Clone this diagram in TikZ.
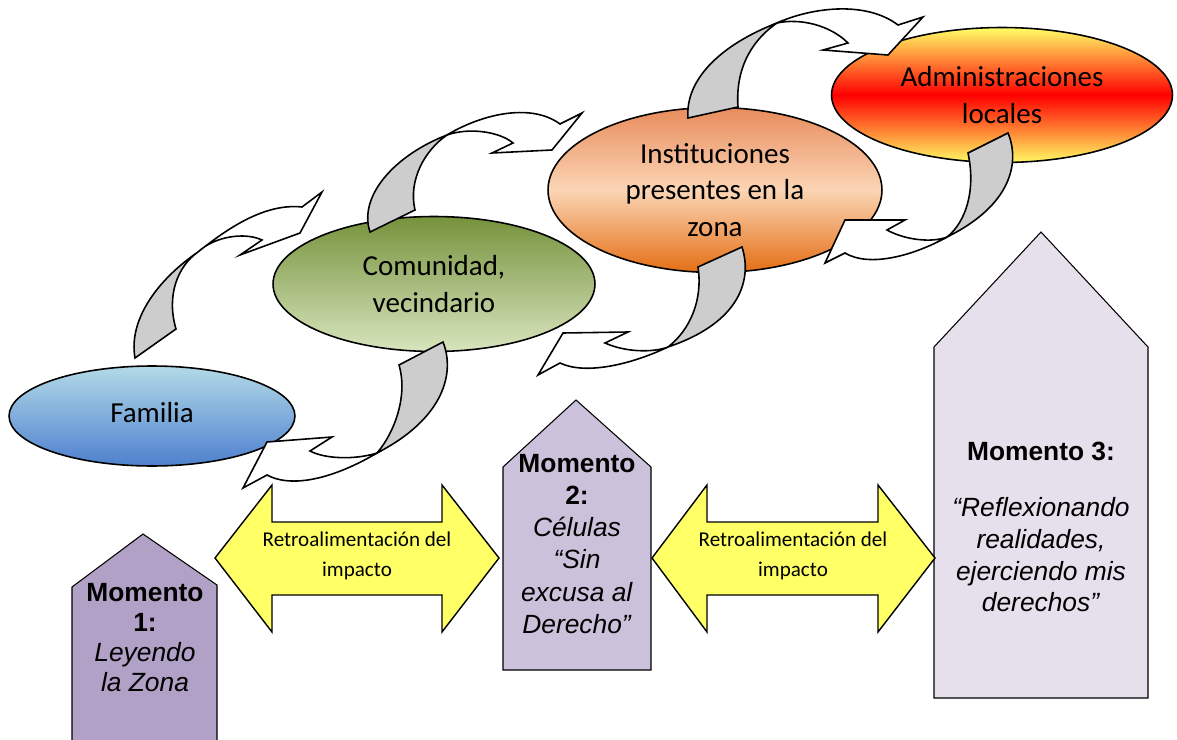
\documentclass[tikz,border=0pt]{standalone}
\usepackage{fontspec}
\setmainfont{Carlito}
\newfontfamily\arialfont{Liberation Sans}
\usetikzlibrary{shapes.geometric}

\definecolor{backgray}{RGB}{205,205,205}
\definecolor{feedyellow}{RGB}{255,255,102}
\definecolor{momA}{RGB}{178,161,199}
\definecolor{momB}{RGB}{204,193,218}
\definecolor{momC}{RGB}{229,224,236}

\begin{document}
\begin{tikzpicture}[
    x=0.02cm, y=-0.02cm,
    % Styles
    bubble/.style={
        draw, ellipse, line width=0.9pt, inner sep=0pt, align=center,
        font=\fontsize{16.5}{21}\selectfont
    },
    backside/.style={draw, fill=backgray, line width=0.9pt},
    frontside/.style={draw, fill=white, line width=0.9pt},
    house/.style={draw, line width=0.6pt},
    momtext/.style={
        anchor=north, align=center, inner sep=0pt,
        font=\arialfont\fontsize{15}{18}\selectfont
    },
    feedback/.style={draw, fill=feedyellow, line width=0.8pt},
    feedtext/.style={align=center, inner sep=0pt, font=\fontsize{12}{17}\selectfont}
]
    \useasboundingbox (0,0) rectangle (1177,740);
    \fill[white] (0,0) rectangle (1177,740);

    % --- Momentos ---
    \path[house, fill=momA] (72,745) -- (72,587) -- (143,534) -- (217,585) -- (217,745) -- cycle;
    \path[house, fill=momB] (503,670) -- (503,467) -- (576,400) -- (651,467) -- (651,670) -- cycle;
    \path[house, fill=momC] (934,698) -- (934,347) -- (1041,232) -- (1148,347) -- (1148,698) -- cycle;

    \node[momtext, font=\arialfont\fontsize{15}{17}\selectfont] (mom1) at (145,583)
        {\textbf{Momento}\\\textbf{1:}\\\textit{Leyendo}\\\textit{la Zona}};
    \node[momtext, font=\arialfont\fontsize{15}{18.3}\selectfont] (mom2) at (577,454)
        {\textbf{Momento}\\\textbf{2:}\\\textit{Células}\\\textit{“Sin}\\\textit{excusa al}\\\textit{Derecho”}};
    \node[momtext] (mom3) at (1041,442)
        {\textbf{Momento 3:}\\[14pt]\textit{“Reflexionando}\\\textit{realidades,}\\\textit{ejerciendo mis}\\\textit{derechos”}};

    % --- Retroalimentacion ---
    \path[feedback] (215,558) -- (272,485) -- (272,522) -- (442,522) -- (442,485) -- (499,558)
        -- (442,632) -- (442,595) -- (272,595) -- (272,632) -- cycle;
    \path[feedback] (652,558) -- (707,485) -- (707,522) -- (878,522) -- (878,485) -- (935,558)
        -- (878,632) -- (878,595) -- (707,595) -- (707,632) -- cycle;
    \node[feedtext] (retro1) at (357,556) {Retroalimentación del\\impacto};
    \node[feedtext] (retro2) at (793,556) {Retroalimentación del\\impacto};

    % --- Niveles ---
    \node[bubble, minimum width=5.72cm, minimum height=2cm,
        top color={rgb,255:red,178;green,218;blue,232}, bottom color={rgb,255:red,78;green,128;blue,206}]
        (familia) at (152,416) {\raisebox{4pt}{Familia}};
    \node[bubble, minimum width=6.44cm, minimum height=2.7cm,
        top color={rgb,255:red,118;green,146;blue,60}, bottom color={rgb,255:red,216;green,229;blue,190}]
        (comunidad) at (434,284) {Comunidad,\\vecindario};
    \node[bubble, minimum width=6.68cm, minimum height=3.3cm,
        top color={rgb,255:red,232;green,140;blue,92}, bottom color={rgb,255:red,228;green,110;blue,20},
        middle color={rgb,255:red,251;green,213;blue,181}]
        (instituciones) at (715,190) {Instituciones\\presentes en la\\zona};
    \node[bubble, minimum width=6.82cm, minimum height=2.7cm,
        top color={rgb,255:red,255;green,255;blue,102}, bottom color={rgb,255:red,255;green,250;blue,100},
        middle color=red]
        (admin) at (1002,95) {Administraciones\\locales};

    % --- Flechas curvas (subida) ---
    \path[backside] (135,358) .. controls (128,318) and (160,278) .. (198,252)
        .. controls (178,266) and (166,295) .. (176,329) -- cycle;
    \path[frontside] (198,252) .. controls (228,228) and (265,203) .. (302,207) -- (322,192) -- (300,233)
        -- (240,255) -- (262,240) .. controls (245,232) and (215,236) .. (198,252) -- cycle;

    \path[backside] (370,232) .. controls (358,196) and (395,155) .. (447,135)
        .. controls (425,150) and (408,180) .. (415,210) -- cycle;
    \path[frontside] (447,135) .. controls (480,115) and (530,102) .. (560,124) -- (582,113) -- (552,150)
        -- (492,153) -- (513,143) .. controls (500,132) and (470,127) .. (447,135) -- cycle;

    \path[backside] (688,118) .. controls (685,80) and (720,45) .. (777,23)
        .. controls (755,38) and (735,65) .. (738,107) -- cycle;
    \path[frontside] (777,23) .. controls (810,8) and (865,0) .. (898,25) -- (923,17) -- (888,55)
        -- (823,50) -- (848,43) .. controls (830,25) and (800,18) .. (777,23) -- cycle;

    % --- Flechas curvas (bajada) ---
    \path[backside] (443,342) .. controls (455,372) and (445,418) .. (377,453)
        .. controls (395,432) and (408,395) .. (399,365) -- cycle;
    \path[frontside] (377,453) .. controls (340,475) and (295,490) .. (267,475) -- (243,488) -- (267,442)
        -- (332,437) -- (310,451) .. controls (325,459) and (355,460) .. (377,453) -- cycle;

    \path[backside] (742,247) .. controls (752,278) and (742,322) .. (668,347)
        .. controls (690,330) and (703,300) .. (698,267) -- cycle;
    \path[frontside] (668,347) .. controls (630,365) and (585,375) .. (560,363) -- (538,375) -- (563,333)
        -- (628,332) -- (605,343) .. controls (625,352) and (652,353) .. (668,347) -- cycle;

    \path[backside] (1008,133) .. controls (1020,162) and (1012,205) .. (947,237)
        .. controls (966,222) and (976,190) .. (968,153) -- cycle;
    \path[frontside] (947,237) .. controls (915,255) and (870,268) .. (845,253) -- (825,263) -- (845,220)
        -- (905,220) -- (887,230) .. controls (905,240) and (932,243) .. (947,237) -- cycle;

\end{tikzpicture}
\end{document}
